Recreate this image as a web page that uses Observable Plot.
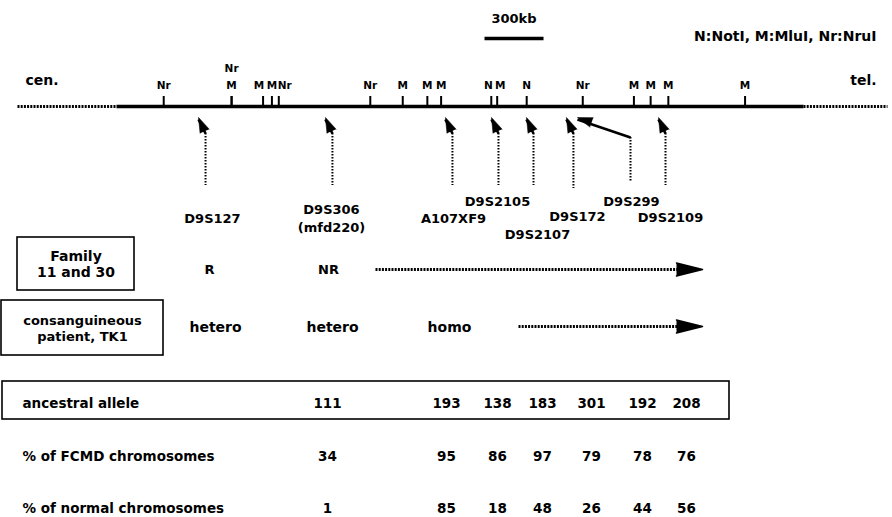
<!DOCTYPE html>
<html><head><meta charset="utf-8">
<script src="https://cdn.jsdelivr.net/npm/d3@7"></script>
<script src="https://cdn.jsdelivr.net/npm/@observablehq/plot@0.6"></script>
<style>body{margin:0;background:#fff} svg{display:block}</style>
</head><body><div id="chart"></div>
<script>
// ---------------- DATA ----------------
// restriction sites along the chromosome (kb from the start of the mapped segment)
const siteEnzymes = ["Nr","Nr","M","M","M","Nr","Nr","M","M","M","N","M","N","Nr","M","M","M","M"];
const siteKb      = [240, 585, 585, 745, 790, 825, 1290,1455,1580,1650,1905,1935,2085,2370,2630,2715,2805,3195];
const mappedKb = 3492;
const scaleBarKb = 300;
const scaleBarLabel = "300kb";
const enzymeKey = "N:NotI, M:MluI, Nr:NruI";
const endLabels = ["cen.", "tel."];
// polymorphic markers and where their arrows point (kb)
const markerNames = ["D9S127","D9S306\n(mfd220)","A107XF9","D9S2105","D9S2107","D9S172","D9S299","D9S2109"];
const markerKb    = [417, 1062, 1672, 1906, 2084, 2287, 2343, 2755];
// haplotype analysis
const familyLabel = "Family\n11 and 30";
const familyCalls = ["R", "NR"];
const patientLabel = "consanguineous\npatient, TK1";
const patientCalls = ["hetero", "hetero", "homo"];
// linkage disequilibrium table
const tableMarkers   = ["D9S306","A107XF9","D9S2105","D9S2107","D9S172","D9S299","D9S2109"];
const rowLabels      = ["ancestral allele", "% of FCMD chromosomes", "% of normal chromosomes"];
const ancestralAllele = [111, 193, 138, 183, 301, 192, 208];
const pctFCMD         = [34, 95, 86, 97, 79, 78, 76];
const pctNormal       = [1, 85, 18, 48, 26, 44, 56];

// ---------------- LAYOUT (pixels) ----------------
const L = {
  x0: 116, x1: 803,            // pixel extent of the solid chromosome
  dotLeft: 17, dotRight: 887,
  lineY: 106, tickTop: 96, siteLabelY: 85, siteLabelStep: 17,
  siteNudge: [0,0,0,-4,0,6,0,0,0,0,-3,3,0,0,0,0,0,0],
  tipY: 117, stemTop: 133, stemDx: 7,
  stemBottom: [185,185,185,185,185,188,182,185],
  bentStemX: 630, bentStemTop: 137,
  markerLabelX: [212,331,453,497,537,577,631,670],
  markerLabelY: [217,217,217,200,233,215,200,216],
  scaleBarX: 484, scaleBarY: 38, scaleLabelY: 18,
  keyRight: 876, keyY: 36, cenX: 25, telRight: 876, endY: 80,
  famBox: [17,237,134,290], famY: 269, famCallX: [209,328], famArrow: [375,702],
  patBox: [1,300,163,355], patY: 327, patCallX: [215,332,449], patArrow: [518,702],
  tabBox: [2,381,729,419], rowY: [403,456,508], rowLabelX: 22,
  colX: [327,446,497,542,591,642,686]
};
const kbPerPx = mappedKb / (L.x1 - L.x0);
const X = px => (px - L.x0) * kbPerPx;

const FONT = "DejaVu Sans, Verdana, sans-serif";
const seg = (x1, y1, x2, y2, o = {}) =>
  Plot.link([{x1, y1, x2, y2}], {x1: "x1", y1: "y1", x2: "x2", y2: "y2", stroke: "black", ...o});
const txt = (text, x, y, o = {}) =>
  Plot.text([{text, x, y}], {x: "x", y: "y", text: "text", fill: "black",
    fontFamily: FONT, fontWeight: "bold", fontSize: 13, ...o});
const box = ([a, b, c, d], o = {}) =>
  Plot.rect([{x1: X(a), y1: b, x2: X(c), y2: d}], {x1: "x1", x2: "x2", y1: "y1", y2: "y2",
    fill: "none", stroke: "black", strokeWidth: 1.6, ...o});

// sites with label positions (stack labels of coincident sites)
const sites = siteKb.map((kb, i) => ({
  kb, enzyme: siteEnzymes[i],
  lx: kb + L.siteNudge[i] * kbPerPx,
  ly: L.siteLabelY - (siteKb[i + 1] === kb ? L.siteLabelStep : 0)
}));
const markers = markerKb.map((kb, i) => ({
  name: markerNames[i], kb,
  stem: markerNames[i] === "D9S299" ? X(L.bentStemX) : kb + L.stemDx * kbPerPx,
  stemTop: markerNames[i] === "D9S299" ? L.bentStemTop : L.stemTop,
  bottom: L.stemBottom[i],
  lx: X(L.markerLabelX[i]), ly: L.markerLabelY[i],
  rot: markerNames[i] === "D9S299" ? -71 : -24
}));
const tableRows = [ancestralAllele, pctFCMD, pctNormal];
const cells = tableRows.flatMap((row, r) => row.map((v, c) => ({
  v: String(v), x: X(L.colX[c]), y: L.rowY[r], marker: tableMarkers[c]
})));

const chart = Plot.plot({
  width: 892, height: 517, margin: 0,
  x: {domain: [0, mappedKb], range: [L.x0, L.x1], axis: null},
  y: {domain: [0, 517], range: [0, 517], axis: null},
  style: {background: "white"},
  marks: [
    // scale bar and key
    txt(scaleBarLabel, X(L.scaleBarX) + scaleBarKb / 2, L.scaleLabelY, {fontSize: 13}),
    seg(X(L.scaleBarX), L.scaleBarY, X(L.scaleBarX) + scaleBarKb, L.scaleBarY, {strokeWidth: 3.5}),
    txt(enzymeKey, X(L.keyRight), L.keyY, {fontSize: 14, textAnchor: "end"}),
    txt(endLabels[0], X(L.cenX), L.endY, {fontSize: 14, textAnchor: "start"}),
    txt(endLabels[1], X(L.telRight), L.endY, {fontSize: 14, textAnchor: "end"}),
    // chromosome
    seg(X(L.dotLeft), L.lineY, 0, L.lineY, {strokeWidth: 3.2, strokeDasharray: "2,1.2"}),
    seg(mappedKb, L.lineY, X(L.dotRight), L.lineY, {strokeWidth: 3.2, strokeDasharray: "2,1.2"}),
    seg(0, L.lineY, mappedKb, L.lineY, {strokeWidth: 3.5}),
    Plot.ruleX(sites, {x: "kb", y1: L.tickTop, y2: L.lineY, stroke: "black", strokeWidth: 2}),
    Plot.text(sites, {x: "lx", y: "ly", text: "enzyme", fontFamily: FONT, fontWeight: "bold", fontSize: 10.5, fill: "black"}),
    // marker arrows
    Plot.ruleX(markers, {x: "stem", y1: "stemTop", y2: "bottom", stroke: "black", strokeWidth: 2, strokeDasharray: "1.6,1.4"}),
    Plot.link(markers, {x1: "stem", y1: "stemTop", x2: "kb", y2: () => L.tipY + 2, stroke: "black", strokeWidth: 2.6}),
    Plot.vector(markers, {x: "kb", y: () => L.tipY, rotate: "rot", length: 15, anchor: "end", shape: "spike", r: 5, fill: "black", stroke: "black", strokeWidth: 0.5}),
    Plot.text(markers, {x: "lx", y: "ly", text: "name", fontFamily: FONT, fontWeight: "bold", fontSize: 13, lineHeight: 1.35, fill: "black"}),
    // family row
    box(L.famBox),
    txt(familyLabel, X((L.famBox[0] + L.famBox[2]) / 2), (L.famBox[1] + L.famBox[3]) / 2, {fontSize: 14, lineHeight: 1.15}),
    ...familyCalls.map((c, i) => txt(c, X(L.famCallX[i]), L.famY, {fontSize: 13})),
    seg(X(L.famArrow[0]), L.famY, X(L.famArrow[1] - 20), L.famY, {strokeWidth: 3.2, strokeDasharray: "2,1.2"}),
    Plot.vector([{x: X(L.famArrow[1]), y: L.famY}], {x: "x", y: "y", rotate: 90, length: 26, anchor: "end", shape: "spike", r: 6.5, fill: "black", stroke: "black"}),
    // consanguineous patient row
    box(L.patBox),
    txt(patientLabel, X((L.patBox[0] + L.patBox[2]) / 2), (L.patBox[1] + L.patBox[3]) / 2, {fontSize: 13, lineHeight: 1.2}),
    ...patientCalls.map((c, i) => txt(c, X(L.patCallX[i]), L.patY, {fontSize: 14})),
    seg(X(L.patArrow[0]), L.patY - 1, X(L.patArrow[1] - 20), L.patY - 1, {strokeWidth: 3.2, strokeDasharray: "2,1.2"}),
    Plot.vector([{x: X(L.patArrow[1]), y: L.patY - 1}], {x: "x", y: "y", rotate: 90, length: 26, anchor: "end", shape: "spike", r: 6.5, fill: "black", stroke: "black"}),
    // table
    box(L.tabBox),
    ...rowLabels.map((t, r) => txt(t, X(L.rowLabelX), L.rowY[r], {fontSize: 13.5, textAnchor: "start"})),
    Plot.text(cells, {x: "x", y: "y", text: "v", fontFamily: FONT, fontWeight: "bold", fontSize: 13.5, fill: "black"})
  ]
});
document.getElementById("chart").appendChild(chart);
</script>
</body></html>
